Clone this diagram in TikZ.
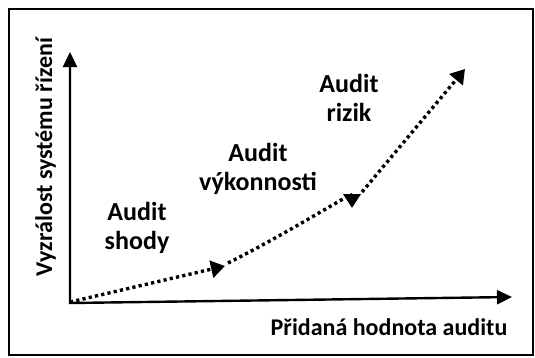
\documentclass[tikz,border=0pt]{standalone}
\usepackage{fontspec}
\setmainfont{Carlito}
\usetikzlibrary{arrows.meta}

\begin{document}
\begin{tikzpicture}[x=1pt, y=-1pt,
    axis/.style={line width=2.4pt, line join=miter,
        {Triangle[length=15pt, width=14pt]}-{Triangle[length=15pt, width=14pt]}},
    dots/.style={line width=3.4pt, dash pattern=on 3.2pt off 3.2pt,
        -{Triangle[length=14pt, width=17pt]}},
    stage/.style={align=center, font=\fontsize{26}{29}\selectfont\bfseries, inner sep=0pt},
    axlabel/.style={font=\fontsize{24}{28}\selectfont\bfseries, inner sep=0pt}
]
\useasboundingbox (0,0) rectangle (535,357);

% Frame
\draw[line width=2pt] (9,9) rectangle (533,355);

% Axes
\coordinate (o) at (70,303);
\coordinate (xend) at (512,297);
\coordinate (yend) at (70,52);
\draw[axis] (yend) -- (o) -- (xend);
\node[axlabel, anchor=base] (xlab) at (389,335) {Přidaná hodnota auditu};
\node[axlabel, rotate=90, anchor=base] (ylab) at (52,157) {Vyzrálost systému řízení};

% Stages
\node[stage, anchor=base] (shody) at (137,249) {Audit\\shody};
\node[stage, anchor=base] (vykon) at (258,190) {Audit\\výkonnosti};
\node[stage, anchor=base] (rizik) at (349,121) {Audit\\rizik};

% Growth path
\coordinate (s1) at (70,302);
\coordinate (t1) at (225,266);
\coordinate (s2) at (228,263);
\coordinate (t2) at (352,208);
\coordinate (s3) at (362,192);
\coordinate (t3) at (465,69);
\draw[dots] (s1) -- (t1);
\draw[dots] (s2) .. controls (290,232) and (352,192) .. (t2);
\draw[dots] (s3) -- (t3);

\end{tikzpicture}
\end{document}
